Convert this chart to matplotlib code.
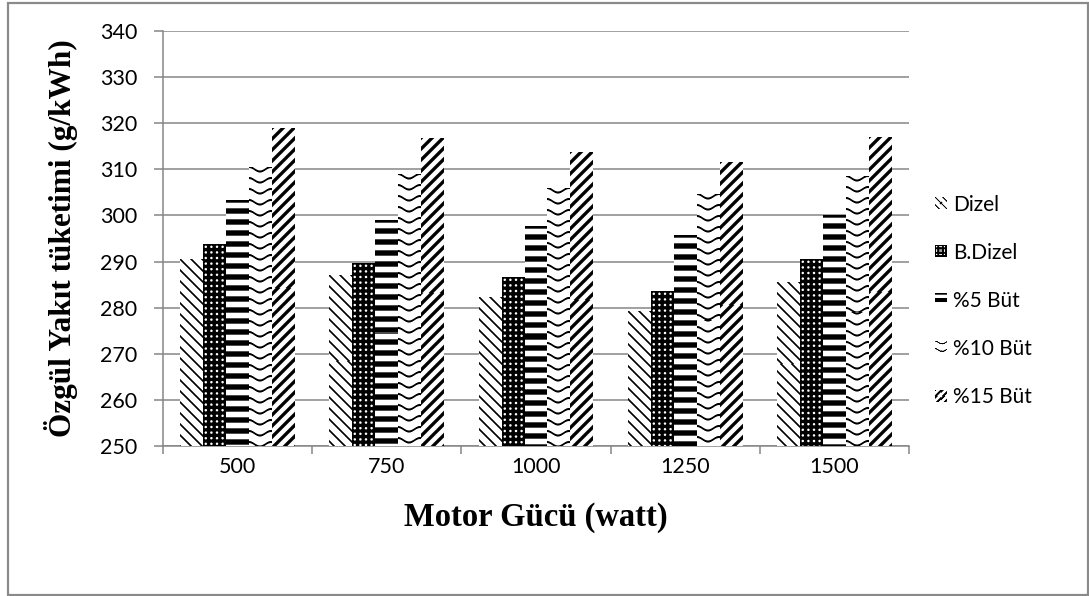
import numpy as np
import matplotlib
matplotlib.use("Agg")
import matplotlib.pyplot as plt
from matplotlib.patches import Rectangle
from matplotlib.legend_handler import HandlerBase
from matplotlib.image import BboxImage
from matplotlib.transforms import Bbox, TransformedBbox

# ---- data -------------------------------------------------------------
categories = ["500", "750", "1000", "1250", "1500"]
series_names = ["Dizel", "B.Dizel", "%5 Büt", "%10 Büt", "%15 Büt"]
dizel = [290.5, 286.9, 282.3, 279.2, 285.4]
b_dizel = [293.6, 289.6, 286.6, 283.5, 290.5]
but5 = [303.3, 298.8, 297.5, 295.7, 299.9]
but10 = [310.5, 308.9, 305.8, 304.5, 308.4]
but15 = [318.8, 316.6, 313.6, 311.4, 316.8]
y_ticks = [250, 260, 270, 280, 290, 300, 310, 320, 330, 340]

series = [dizel, b_dizel, but5, but10, but15]
pattern_kinds = ["down_diag", "dots", "horizontal", "wave", "up_diag"]

GRID = "#868686"
SANS = "Lato"
SERIF = "Liberation Serif"


def _stripe(coord, period, half):
    """1 = paper, 0 = ink; anti-aliased periodic line of half-width `half`."""
    u = np.mod(coord, period)
    d = np.minimum(u, period - u)
    return np.clip(d - half + 0.5, 0.0, 1.0)


def texture(kind, w, h, scale=1.0):
    jj, ii = np.meshgrid((np.arange(w) + 0.5) / scale,
                         (np.arange(h) + 0.5) / scale)
    r2 = np.sqrt(2.0)
    if kind == "down_diag":
        return _stripe((jj - ii) / r2, 11.0 / r2, 0.9)
    if kind == "up_diag":
        return _stripe((jj + ii) / r2, 11.0 / r2, 1.7)
    if kind == "horizontal":
        return _stripe(ii, 11.0, 2.7)
    if kind == "dots":
        p = 5.6
        dx = np.mod(jj, p) - p / 2
        dy = np.mod(ii, p) - p / 2
        r = np.hypot(dx, dy)
        return np.clip(1.2 + 0.5 - r, 0.0, 1.0)
    if kind == "wave":
        amp = 4.5
        wl = 22.0
        off = amp * (0.5 - 0.5 * np.cos(2 * np.pi * jj / wl))
        return _stripe(ii - off, 11.0, 1.05)
    return np.ones((h, w))


class PatternHandler(HandlerBase):
    def __init__(self, kind):
        super().__init__()
        self.kind = kind

    def create_artists(self, legend, orig_handle, xdescent, ydescent,
                       width, height, fontsize, trans):
        side = min(width, height)
        x0 = -xdescent + (width - side) / 2
        y0 = -ydescent + (height - side) / 2
        bb = TransformedBbox(Bbox.from_bounds(x0, y0, side, side), trans)
        n = max(int(round(side * legend.figure.dpi / 72.0)), 2)
        img = BboxImage(bb, cmap="gray", norm=plt.Normalize(0, 1),
                        interpolation="nearest")
        img.set_data(texture(self.kind, n, n, scale=0.6))
        return [img]


# ---- figure -----------------------------------------------------------
W, H = 1089, 596
fig = plt.figure(figsize=(W / 100, H / 100), dpi=100)
fig.patch.set_facecolor("white")
fig.add_artist(Rectangle((8 / W, 1.5 / H), 1079.5 / W, 592 / H,
                         transform=fig.transFigure, fill=False,
                         edgecolor="#8a8a8a", linewidth=1.6))

ax = fig.add_axes([163 / W, 150 / H, 746 / W, 415 / H])
ymin, ymax = y_ticks[0], y_ticks[-1]
ax.set_xlim(-0.5, len(categories) - 0.5)
ax.set_ylim(ymin, ymax)

n = len(series)
gap = 1.5
bw = 1.0 / (n + gap)
xpos = np.arange(len(categories))

for k, (vals, kind) in enumerate(zip(series, pattern_kinds)):
    offs = (k - (n - 1) / 2) * bw
    bars = ax.bar(xpos + offs, np.array(vals) - ymin, bw, bottom=ymin,
                  color="white", linewidth=0, zorder=2)
    for b in bars:
        x0, y0 = b.get_x(), b.get_y()
        x1, y1 = x0 + b.get_width(), y0 + b.get_height()
        (px0, py0), (px1, py1) = ax.transData.transform([(x0, y0), (x1, y1)])
        w = max(int(round(px1 - px0)), 1)
        h = max(int(round(py1 - py0)), 1)
        ax.imshow(texture(kind, w, h), cmap="gray", vmin=0, vmax=1,
                  extent=(x0, x1, y0, y1), aspect="auto",
                  interpolation="nearest", origin="upper", zorder=3)

ax.set_xlim(-0.5, len(categories) - 0.5)
ax.set_ylim(ymin, ymax)

# grid and axes
ax.set_yticks(y_ticks)
ax.yaxis.grid(True, color=GRID, linewidth=1.1, zorder=0)
ax.set_axisbelow(True)
for s in ("top", "right"):
    ax.spines[s].set_visible(False)
for s in ("left", "bottom"):
    ax.spines[s].set_color(GRID)
    ax.spines[s].set_linewidth(1.1)

ax.set_xticks(xpos)
ax.set_xticklabels(categories)
ax.set_xticks(np.arange(len(categories) + 1) - 0.5, minor=True)
ax.tick_params(axis="x", which="major", length=0, pad=8,
               labelsize=15.5)
ax.tick_params(axis="x", which="minor", length=6, width=1.1, color=GRID,
               direction="out")
ax.tick_params(axis="y", length=6.5, width=1.1, color=GRID, pad=12,
               labelsize=15.5)
for lab in ax.get_xticklabels() + ax.get_yticklabels():
    lab.set_fontfamily(SANS)

ax.set_ylabel("Özgül Yakıt tüketimi (g/kWh)", fontsize=22.5,
              fontweight="bold", fontfamily=SERIF, va="center")
ax.yaxis.set_label_coords(-0.137, 0.5)
ax.set_xlabel("Motor Gücü (watt)", fontsize=23.5, fontweight="bold",
              fontfamily=SERIF, va="center")
ax.xaxis.set_label_coords(0.5, -0.173)

# legend with the same fill patterns as the bars
handles = [Rectangle((0, 0), 1, 1) for _ in series_names]
hmap = {h: PatternHandler(kind) for h, kind in zip(handles, pattern_kinds)}
leg = fig.legend(handles, series_names, handler_map=hmap,
                 loc="center left", bbox_to_anchor=(935 / W, 0.495),
                 frameon=False, prop={"family": SANS, "size": 15},
                 handlelength=0.55, handleheight=0.55, handletextpad=0.3,
                 labelspacing=1.35, borderpad=0, borderaxespad=0)

fig.savefig("out.png", dpi=100, facecolor="white")
